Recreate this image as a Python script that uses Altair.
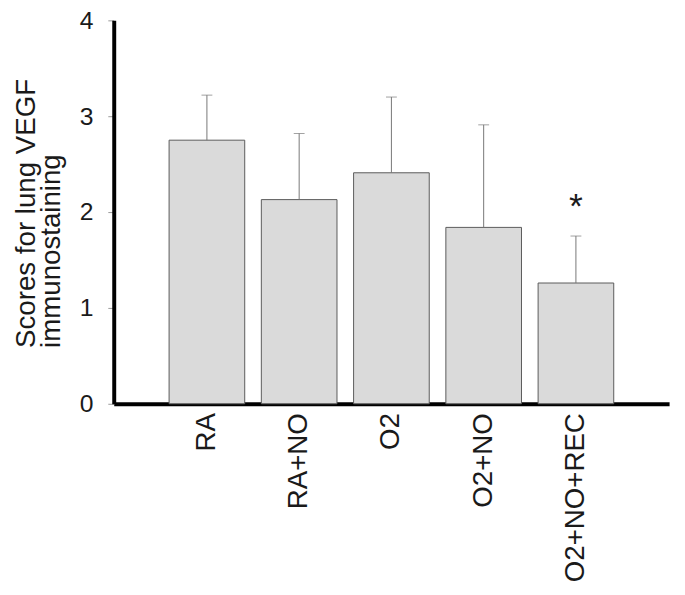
import altair as alt
import pandas as pd

groups = ["RA", "RA+NO", "O2", "O2+NO", "O2+NO+REC"]
means = [2.75, 2.13, 2.41, 1.84, 1.26]
errors = [0.47, 0.69, 0.79, 1.07, 0.49]
marks = ["", "", "", "", "*"]
y_ticks = [0, 1, 2, 3, 4]

df = pd.DataFrame({
    "group": groups,
    "mean": means,
    "err": errors,
    "mark": marks,
})
df["upper"] = df["mean"] + df["err"]

FONT = "Liberation Sans"

x_axis = alt.Axis(
    title=None,
    labelAngle=270,
    labelAlign="right",
    labelBaseline="middle",
    labelPadding=9,
    labelFontSize=28,
    labelFont=FONT,
    labelColor="#1a1a1a",
    ticks=False,
    domainColor="black",
    domainWidth=4,
)
x_scale = alt.Scale(paddingInner=0.18, paddingOuter=0.6)

y_axis = alt.Axis(
    values=y_ticks,
    title=["Scores for lung VEGF", "immunostaining"],
    titleFont=FONT,
    titleFontSize=28,
    titleFontWeight="normal",
    titleColor="#1a1a1a",
    titleAngle=270,
    titleAlign="left",
    titleBaseline="top",
    titleLineHeight=25,
    titleX=-102,
    titleY=331,
    labelFont=FONT,
    labelFontSize=25,
    labelColor="#1a1a1a",
    labelPadding=15,
    tickSize=6,
    tickColor="#999999",
    tickWidth=1,
    grid=False,
    domainColor="black",
    domainWidth=4,
)
y_scale = alt.Scale(domain=[0, 4], nice=False, zero=True)


def xenc():
    return alt.X("group:N", sort=groups, scale=x_scale, axis=x_axis)


def yenc(field):
    return alt.Y(field, scale=y_scale, axis=y_axis)


bars = alt.Chart(df).mark_bar(
    fill="#dadada", stroke="#5a5a5a", strokeWidth=1
).encode(x=xenc(), y=yenc("mean:Q"))

rules = alt.Chart(df).mark_rule(color="#777777", strokeWidth=1).encode(
    x=xenc(), y=yenc("mean:Q"), y2="upper:Q"
)

caps = alt.Chart(df).mark_tick(
    orient="horizontal", size=11, thickness=1, color="#777777"
).encode(x=xenc(), y=yenc("upper:Q"))

stars = alt.Chart(df).mark_text(
    fontSize=36, font=FONT, dy=-18, baseline="alphabetic", color="#1a1a1a"
).encode(x=xenc(), y=yenc("upper:Q"), text="mark:N")

chart = alt.layer(bars, rules, caps, stars).properties(
    width=562,
    height=388,
    autosize=alt.AutoSizeParams(type="none"),
    padding={"left": 107, "top": 9, "right": 8, "bottom": 190},
    background="white",
).configure_view(stroke=None)

chart.save("out.html", embed_options={"renderer": "svg", "actions": False})
